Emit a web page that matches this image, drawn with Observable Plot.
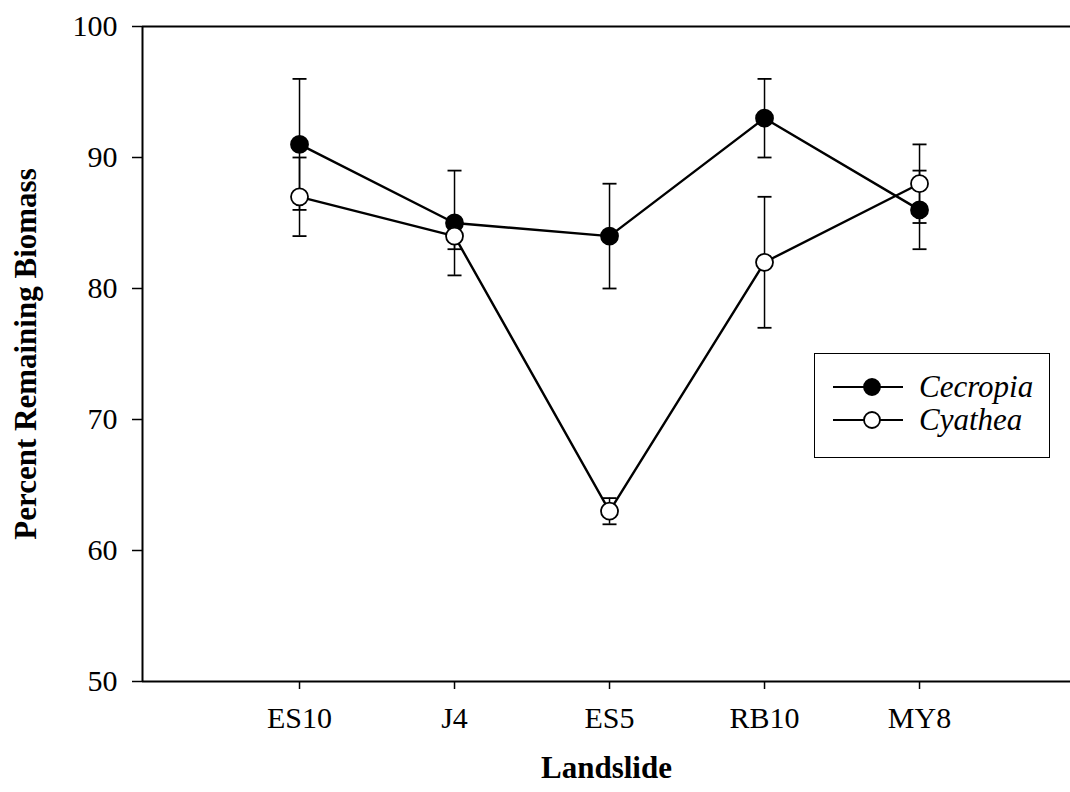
<!DOCTYPE html>
<html>
<head>
<meta charset="utf-8">
<script src="https://cdn.jsdelivr.net/npm/d3@7"></script>
<script src="https://cdn.jsdelivr.net/npm/@observablehq/plot@0.6"></script>
<style>
  html, body { margin: 0; padding: 0; background: #fff; }
  #wrap { position: relative; width: 1070px; height: 792px; }
  #legend {
    position: absolute; left: 814px; top: 353px; width: 236px; height: 105px;
    border: 1.5px solid #000; background: #fff; box-sizing: border-box;
    font-family: "Liberation Serif", "Times New Roman", serif; font-style: italic; font-size: 31px;
  }
  .row { position: absolute; left: 17px; height: 30px; display: flex; align-items: center; }
  .row span { margin-left: 15px; line-height: 30px; }
</style>
</head>
<body>
<div id="wrap"></div>
<script>
const landslides = ["ES10", "J4", "ES5", "RB10", "MY8"];
const cecropiaMean = [91, 85, 84, 93, 86];
const cecropiaErr  = [5, 4, 4, 3, 3];
const cyatheaMean  = [87, 84, 63, 82, 88];
const cyatheaErr   = [3, 1, 1, 5, 3];
const yTicks = [50, 60, 70, 80, 90, 100];
const seriesNames = ["Cecropia", "Cyathea"];

const rows = [];
landslides.forEach((name, i) => {
  rows.push({series: "Cecropia", i, name, mean: cecropiaMean[i], lo: cecropiaMean[i] - cecropiaErr[i], hi: cecropiaMean[i] + cecropiaErr[i]});
});
landslides.forEach((name, i) => {
  rows.push({series: "Cyathea", i, name, mean: cyatheaMean[i], lo: cyatheaMean[i] - cyatheaErr[i], hi: cyatheaMean[i] + cyatheaErr[i]});
});

const capSymbol = {
  draw(context, size) {
    const r = Math.sqrt(size / Math.PI);
    context.moveTo(-r, 0);
    context.lineTo(r, 0);
  }
};

const serif = "'Liberation Serif', 'Times New Roman', serif";
const xDomain = [-1.013, 4.974];

const chart = Plot.plot({
  width: 1070,
  height: 792,
  marginLeft: 142,
  marginRight: 0,
  marginTop: 26,
  marginBottom: 111,
  style: {fontFamily: serif, fontSize: "30px", color: "#000", background: "#fff"},
  x: {type: "linear", domain: xDomain},
  y: {domain: [50, 100]},
  marks: [
    Plot.ruleY([100], {stroke: "#000", strokeWidth: 2}),
    Plot.ruleY([50], {stroke: "#000", strokeWidth: 2}),
    Plot.ruleX([xDomain[0]], {stroke: "#000", strokeWidth: 2}),
    Plot.axisY({ticks: yTicks, tickSize: 10, tickPadding: 15, tickFormat: d => d, label: null, fontSize: 30, strokeWidth: 1.5}),
    Plot.axisX({ticks: [0, 1, 2, 3, 4], tickSize: 8, tickPadding: 17, tickFormat: i => landslides[i], label: null, fontSize: 30, strokeWidth: 1.5}),
    Plot.text(["Percent Remaining Biomass"], {frameAnchor: "left", textAnchor: "middle", rotate: -90, dx: -116, fontWeight: "bold", fontSize: 31, fill: "#000"}),
    Plot.text(["Landslide"], {frameAnchor: "bottom", textAnchor: "middle", dy: 96, fontWeight: "bold", fontSize: 31, fill: "#000"}),
    Plot.ruleX(rows, {x: "i", y1: "lo", y2: "hi", stroke: "#000", strokeWidth: 1.5}),
    Plot.dot(rows, {x: "i", y: "lo", symbol: capSymbol, r: 7, stroke: "#000", strokeWidth: 1.8, fill: "none"}),
    Plot.dot(rows, {x: "i", y: "hi", symbol: capSymbol, r: 7, stroke: "#000", strokeWidth: 1.8, fill: "none"}),
    Plot.line(rows, {x: "i", y: "mean", z: "series", stroke: "#000", strokeWidth: 2.4}),
    Plot.dot(rows, {x: "i", y: "mean", r: 8.5, stroke: "#000", strokeWidth: 1.8, fill: d => d.series === "Cecropia" ? "#000" : "#fff"})
  ]
});

const wrap = document.getElementById("wrap");
wrap.appendChild(chart);

const legend = document.createElement("div");
legend.id = "legend";
seriesNames.forEach((s, k) => {
  const row = document.createElement("div");
  row.className = "row";
  row.style.top = (k === 0 ? 18 : 51) + "px";
  const fill = s === "Cecropia" ? "#000" : "#fff";
  row.innerHTML = `<svg width="72" height="22"><line x1="1" y1="11" x2="71" y2="11" stroke="#000" stroke-width="2"/><circle cx="40" cy="11" r="8" fill="${fill}" stroke="#000" stroke-width="1.8"/></svg><span>${s}</span>`;
  legend.appendChild(row);
});
wrap.appendChild(legend);
</script>
</body>
</html>
